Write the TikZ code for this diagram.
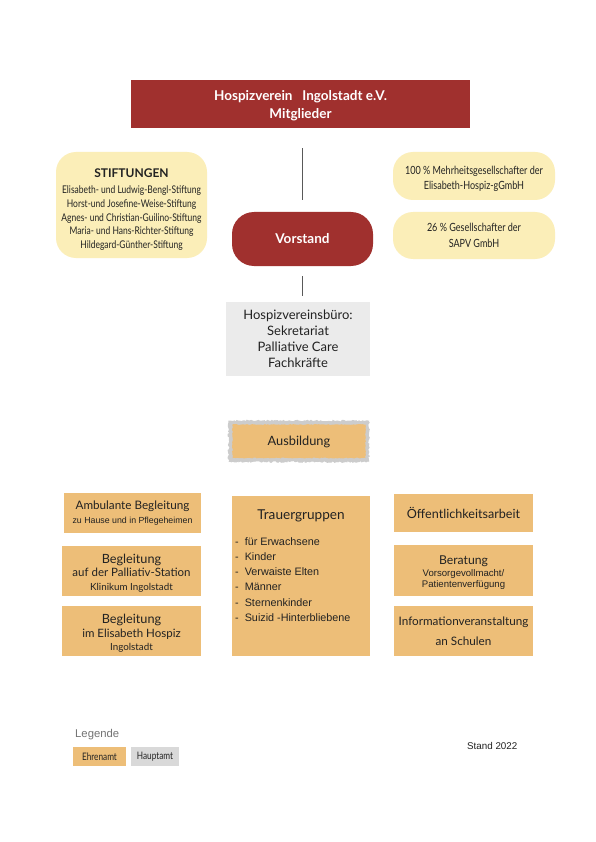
\documentclass[tikz,border=0pt]{standalone}
\usepackage{fontspec}
\setmainfont{Lato}
\newfontfamily\helv{Liberation Sans}
\newfontfamily\cond[FakeStretch=0.8]{Lato}
\usetikzlibrary{decorations.pathmorphing}
\definecolor{hvred}{HTML}{A0302E}
\definecolor{hvorange}{HTML}{EDBE78}
\definecolor{hvcream}{HTML}{FBEEB8}
\definecolor{hvgray}{HTML}{EBEBEB}
\definecolor{hvgrayb}{HTML}{D9D9D9}
\definecolor{hvtext}{HTML}{222222}
\tikzset{
  redbox/.style={fill=hvred, text=white, inner sep=0pt, align=center, font=\bfseries\fontsize{13.5}{19}\selectfont},
  creambox/.style={fill=hvcream, rounded corners=20pt, inner sep=0pt, align=center, text=hvtext},
  orangebox/.style={fill=hvorange, inner sep=0pt, align=center, text=hvtext},
  graybox/.style={fill=hvgray, inner sep=0pt, align=center, text=hvtext, font=\fontsize{13}{16}\selectfont},
  txt/.style={inner sep=0pt, align=center, text=hvtext},
  conn/.style={draw=black!65, line width=0.9pt},
}
\begin{document}
\begin{tikzpicture}[x=1pt,y=-1pt]
\useasboundingbox[fill=white] (0,0) rectangle (595,842);

% Title
\node[redbox, minimum width=339pt, minimum height=48pt] (title) at (300.5,104) {};
\node[txt, text=white, font=\bfseries\fontsize{13.5}{18.5}\selectfont] (titlet) at (300.5,105.5)
  {Hospizverein\ \ \ Ingolstadt e.V.\\Mitglieder};

% Vorstand
\node[redbox, rounded corners=22pt, minimum width=141pt, minimum height=54pt,
  font=\bfseries\fontsize{13.5}{14}\selectfont] (vorstand) at (302.5,239) {Vorstand};

% Stiftungen
\node[creambox, minimum width=151pt, minimum height=106pt] (stift) at (131.5,205) {};
\node[txt, font=\cond\fontsize{10.6}{13.7}\selectfont] (stiftt) at (131.5,209.5)
  {{\normalfont\bfseries\fontsize{12}{14}\selectfont STIFTUNGEN}\\[2.5pt]
   Elisabeth- und Ludwig-Bengl-Stiftung\\
   Horst-und Josefine-Weise-Stiftung\\
   Agnes- und Christian-Guilino-Stiftung\\
   Maria- und Hans-Richter-Stiftung\\
   Hildegard-Günther-Stiftung};

% Right cream boxes
\node[creambox, minimum width=162pt, minimum height=48pt] (gmbh) at (474,176) {};
\node[txt, font=\cond\fontsize{11.3}{15}\selectfont] (gmbht) at (474,178.5)
  {100 \% Mehrheitsgesellschafter der\\Elisabeth-Hospiz-gGmbH};
\node[creambox, minimum width=162pt, minimum height=47pt,
  font=\cond\fontsize{11.3}{15.5}\selectfont] (sapv) at (474,235.5)
  {26 \% Gesellschafter der\\SAPV GmbH};

% Buero
\node[graybox, minimum width=144pt, minimum height=74pt] (buero) at (298,339)
  {Hospizvereinsbüro:\\Sekretariat\\Palliative Care\\Fachkräfte};

% connectors
\draw[conn, shorten <=20pt, shorten >=12pt] (vorstand.north |- title.south) -- (vorstand.north);
\draw[conn, shorten <=10pt, shorten >=6pt] (vorstand.south) -- (vorstand.south |- buero.north);

% Ausbildung
\fill[black!20, decorate, decoration={random steps, segment length=1.5pt, amplitude=0.9pt}]
  (228.5,420.5) rectangle (369,462);
\fill[hvorange, decorate, decoration={random steps, segment length=1.5pt, amplitude=0.5pt}]
  (232.5,424.5) rectangle (365.5,458);
\node[txt, minimum width=133pt, minimum height=33pt, font=\fontsize{12.8}{14}\selectfont] (ausb) at (299,441.5) {Ausbildung};

% Left column
\node[orangebox, minimum width=137pt, minimum height=40pt, font=\fontsize{11.7}{14}\selectfont] (amb) at (132.5,513)
  {{\fontsize{11.7}{14}\selectfont Ambulante Begleitung}\\
   {\helv\fontsize{8.8}{12}\selectfont zu Hause und in Pflegeheimen}};
\node[orangebox, minimum width=139pt, minimum height=50pt] (pall) at (131.5,571) {};
\node[txt, font=\fontsize{11.5}{13.6}\selectfont] (pallt) at (131.5,573)
  {{\fontsize{12.7}{14}\selectfont Begleitung}\\
   auf der Palliativ-Station\\
   {\fontsize{9.8}{12.5}\selectfont Klinikum Ingolstadt}};
\node[orangebox, minimum width=139pt, minimum height=50pt] (elis) at (131.5,631) {};
\node[txt, font=\fontsize{11.5}{13.3}\selectfont] (elist) at (131.5,633.5)
  {{\fontsize{12.7}{14}\selectfont Begleitung}\\
   im Elisabeth Hospiz\\
   {\fontsize{9.8}{12}\selectfont Ingolstadt}};

% Trauergruppen
\node[orangebox, minimum width=138pt, minimum height=160pt] (trauer) at (301,576) {};
\node[anchor=base, inner sep=0pt, text=hvtext, font=\fontsize{13.6}{14}\selectfont] (trauert) at (301,519) {Trauergruppen};
\node[anchor=north west, inner sep=0pt, align=left, text=hvtext,
  font=\helv\fontsize{10.8}{15.3}\selectfont] (trauerl) at (235,537)
  {-\ \ für Erwachsene\\-\ \ Kinder\\-\ \ Verwaiste Elten\\-\ \ Männer\\-\ \ Sternenkinder\\-\ \ Suizid -Hinterbliebene};

% Right column
\node[orangebox, minimum width=139pt, minimum height=38pt, font=\fontsize{12.6}{14}\selectfont] (oeff) at (463.5,513) {Öffentlichkeitsarbeit};
\node[orangebox, minimum width=139pt, minimum height=51pt] (berat) at (463.5,570.5) {};
\node[txt, font=\helv\fontsize{9.6}{11.5}\selectfont] (beratt) at (463.5,573)
  {{\normalfont\fontsize{12.2}{14}\selectfont Beratung}\\
   Vorsorgevollmacht/\\Patientenverfügung};
\node[orangebox, minimum width=139pt, minimum height=50pt, font=\fontsize{11.7}{19.5}\selectfont] (info) at (463.5,631)
  {Informationveranstaltung\\an Schulen};

% Legend
\node[anchor=base west, inner sep=0pt, text=black!55, font=\helv\fontsize{11.3}{12}\selectfont] (leg) at (75,737) {Legende};
\node[fill=hvorange, minimum width=53pt, minimum height=19pt, inner sep=0pt,
  font=\cond\fontsize{10.3}{11}\selectfont, text=hvtext] (ehren) at (99.5,756.5) {Ehrenamt};
\node[fill=hvgrayb, minimum width=48pt, minimum height=19pt, inner sep=0pt,
  font=\cond\fontsize{10.3}{11}\selectfont, text=hvtext] (haupt) at (155,756.5) {Hauptamt};
\node[anchor=base west, inner sep=0pt, text=hvtext, font=\helv\fontsize{9.8}{10}\selectfont] (stand) at (467,749) {Stand 2022};
\end{tikzpicture}
\end{document}
